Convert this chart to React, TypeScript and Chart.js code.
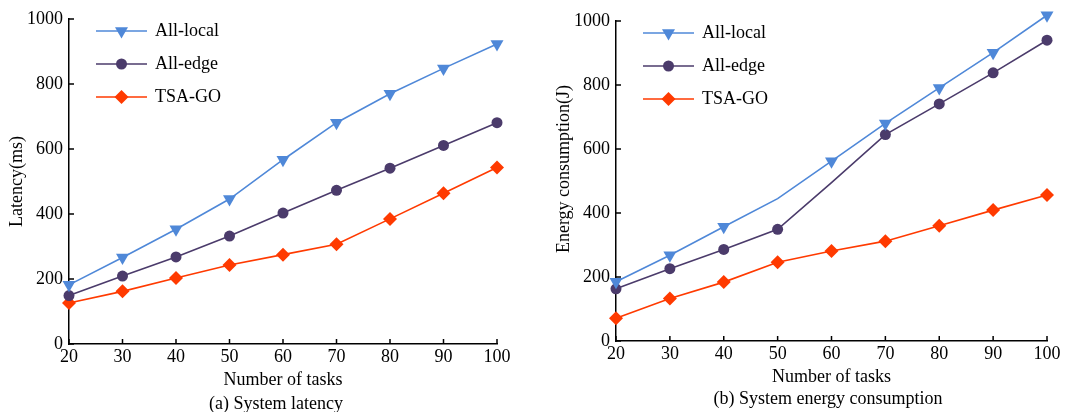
import React, { useEffect, useRef } from "react";
import { Chart, registerables } from "chart.js";

Chart.register(...registerables);

// ---------- data ----------
const tasks = [20, 30, 40, 50, 60, 70, 80, 90, 100];
const seriesNames = ["All-local", "All-edge", "TSA-GO"];

const latencyLocal = [182, 266, 353, 446, 567, 681, 770, 848, 923];
const latencyEdge = [149, 209, 268, 332, 403, 473, 541, 611, 681];
const latencyTsa = [126, 162, 203, 243, 275, 307, 385, 464, 543];

const energyLocal = [185, 268, 357, 445, 562, 680, 791, 901, 1018];
const energyEdge = [163, 226, 286, 349, 495, 645, 741, 838, 940];
const energyTsa = [71, 133, 184, 246, 281, 312, 360, 409, 456];

const yTickStep = 200;
const yMin = 0;
const yMax = 1000;

// ---------- style ----------
const FONT = "'Liberation Serif', 'Times New Roman', serif";
const FS = 18;
const COLORS = ["#4F88D8", "#4B3B6B", "#FF3A00"];
const STYLES = ["triangle", "circle", "rectRot"];
const RADII = [7.5, 5.5, 7];
const ROT = [180, 0, 0];

function drawMarker(ctx: CanvasRenderingContext2D, style: string, x: number, y: number, r: number, rot: number) {
  ctx.beginPath();
  if (style === "circle") {
    ctx.arc(x, y, r, 0, Math.PI * 2);
  } else if (style === "triangle") {
    let a = (rot * Math.PI) / 180;
    for (let k = 0; k < 3; k++) {
      const px = x + Math.sin(a) * r;
      const py = y - Math.cos(a) * r;
      if (k === 0) ctx.moveTo(px, py);
      else ctx.lineTo(px, py);
      a += (2 * Math.PI) / 3;
    }
    ctx.closePath();
  } else {
    ctx.moveTo(x, y - r);
    ctx.lineTo(x + r, y);
    ctx.lineTo(x, y + r);
    ctx.lineTo(x - r, y);
    ctx.closePath();
  }
  ctx.fill();
}

const inwardTicks = {
  id: "inwardTicks",
  beforeDatasetsDraw(chart: any) {
    const { ctx, chartArea } = chart;
    const xs = chart.scales.x;
    const ys = chart.scales.y;
    ctx.save();
    ctx.strokeStyle = "#000";
    ctx.lineWidth = 1.5;
    ctx.beginPath();
    xs.ticks.forEach((t: any) => {
      const px = xs.getPixelForValue(t.value);
      ctx.moveTo(px, chartArea.bottom);
      ctx.lineTo(px, chartArea.bottom - 5);
    });
    ys.ticks.forEach((t: any) => {
      const py = ys.getPixelForValue(t.value);
      ctx.moveTo(chartArea.left, py);
      ctx.lineTo(chartArea.left + 5, py);
    });
    ctx.stroke();
    ctx.restore();
  },
};

const yTitlePlugin = {
  id: "yTitleText",
  afterDraw(chart: any) {
    const o = chart.options.plugins.yTitleText;
    if (!o) return;
    const { ctx, chartArea } = chart;
    ctx.save();
    ctx.translate(o.x, (chartArea.top + chartArea.bottom) / 2 + o.shift);
    ctx.rotate(-Math.PI / 2);
    ctx.fillStyle = "#000";
    ctx.font = `${FS}px ${FONT}`;
    ctx.textAlign = "center";
    ctx.textBaseline = "middle";
    ctx.fillText(o.text, 0, 0);
    ctx.restore();
  },
};

const lineLegend = {
  id: "lineLegend",
  afterDraw(chart: any) {
    const { ctx, chartArea } = chart;
    const rows = [12, 45, 78];
    ctx.save();
    chart.data.datasets.forEach((ds: any, i: number) => {
      const y = chartArea.top + rows[i];
      const x0 = chartArea.left + 27;
      const x1 = chartArea.left + 78;
      ctx.strokeStyle = ds.borderColor;
      ctx.fillStyle = ds.borderColor;
      ctx.lineWidth = 1.6;
      ctx.beginPath();
      ctx.moveTo(x0, y);
      ctx.lineTo(x1, y);
      ctx.stroke();
      drawMarker(ctx, STYLES[i], (x0 + x1) / 2, y, RADII[i], ROT[i]);
      ctx.fillStyle = "#000";
      ctx.font = `${FS}px ${FONT}`;
      ctx.textBaseline = "middle";
      ctx.textAlign = "left";
      ctx.fillText(ds.label, chartArea.left + 86, y);
    });
    ctx.restore();
  },
};

type Geo = { yWidth: number; right: number; top: number; xHeight: number; xTitlePad: number; yTitleX: number; yTitleShift: number };

function makeConfig(series: number[][], yTitle: string, geo: Geo, hidden: number[][]): any {
  return {
    type: "line",
    data: {
      datasets: series.map((vals, i) => ({
        label: seriesNames[i],
        data: tasks.map((t, j) => ({ x: t, y: vals[j] })),
        borderColor: COLORS[i],
        backgroundColor: COLORS[i],
        borderWidth: 1.6,
        pointStyle: STYLES[i],
        pointRadius: tasks.map((_, j) => (hidden[i].includes(j) ? 0 : RADII[i])),
        pointRotation: ROT[i],
        pointBorderWidth: 0,
        pointBackgroundColor: COLORS[i],
        clip: false,
        tension: 0,
        fill: false,
      })),
    },
    options: {
      responsive: false,
      animation: false,
      events: [],
      layout: { padding: { left: 0, right: geo.right, top: geo.top, bottom: 0 } },
      plugins: {
        legend: { display: false },
        tooltip: { enabled: false },
        title: { display: false },
        yTitleText: { text: yTitle, x: geo.yTitleX, shift: geo.yTitleShift },
      },
      scales: {
        x: {
          type: "linear",
          min: tasks[0],
          max: tasks[tasks.length - 1],
          ticks: {
            stepSize: 10,
            color: "#000",
            font: { family: FONT, size: FS },
            padding: 2,
            maxRotation: 0,
            autoSkip: false,
            callback: (v: any) => String(v),
          },
          grid: { display: false, drawTicks: false },
          border: { display: true, color: "#000", width: 1.5 },
          title: {
            display: true,
            text: "Number of tasks",
            color: "#000",
            font: { family: FONT, size: FS },
            padding: { top: 0, bottom: geo.xTitlePad },
          },
          afterFit: (s: any) => {
            s.height = geo.xHeight;
          },
        },
        y: {
          type: "linear",
          min: yMin,
          max: yMax,
          ticks: {
            stepSize: yTickStep,
            color: "#000",
            font: { family: FONT, size: FS },
            padding: 6,
            callback: (v: any) => String(v),
          },
          grid: { display: false, drawTicks: false },
          border: { display: true, color: "#000", width: 1.5 },
          title: { display: false },
          afterFit: (s: any) => {
            s.width = geo.yWidth;
          },
        },
      },
    },
    plugins: [inwardTicks, lineLegend, yTitlePlugin],
  };
}

function ChartPanel(props: { width: number; left: number; config: () => any }) {
  const ref = useRef<HTMLCanvasElement | null>(null);
  useEffect(() => {
    if (!ref.current) return;
    const chart = new Chart(ref.current, props.config());
    return () => chart.destroy();
  }, []);
  return (
    <canvas
      ref={ref}
      width={props.width}
      height={412}
      style={{ position: "absolute", left: props.left, top: 0, width: props.width, height: 412 }}
    />
  );
}

export default function App() {
  const captionStyle: React.CSSProperties = {
    position: "absolute",
    fontFamily: FONT,
    fontSize: FS,
    lineHeight: "20px",
    color: "#000",
    textAlign: "center",
    whiteSpace: "nowrap",
  };
  return (
    <div style={{ position: "absolute", left: 0, top: 0, width: 1068, height: 412, background: "#fff", overflow: "hidden" }}>
      <ChartPanel
        width={540}
        left={0}
        config={() =>
          makeConfig(
            [latencyLocal, latencyEdge, latencyTsa],
            "Latency(ms)",
            { yWidth: 69, right: 43, top: 19, xHeight: 68, xTitlePad: 21, yTitleX: 17, yTitleShift: 0 },
            [[], [], []]
          )
        }
      />
      <ChartPanel
        width={528}
        left={540}
        config={() =>
          makeConfig(
            [energyLocal, energyEdge, energyTsa],
            "Energy consumption(J)",
            { yWidth: 76, right: 21, top: 21, xHeight: 71, xTitlePad: 24, yTitleX: 24, yTitleShift: -12 },
            [[3], [4], []]
          )
        }
      />
      <div style={{ ...captionStyle, left: 176, width: 200, top: 393 }}>(a) System latency</div>
      <div style={{ ...captionStyle, left: 678, width: 300, top: 388 }}>(b) System energy consumption</div>
    </div>
  );
}
